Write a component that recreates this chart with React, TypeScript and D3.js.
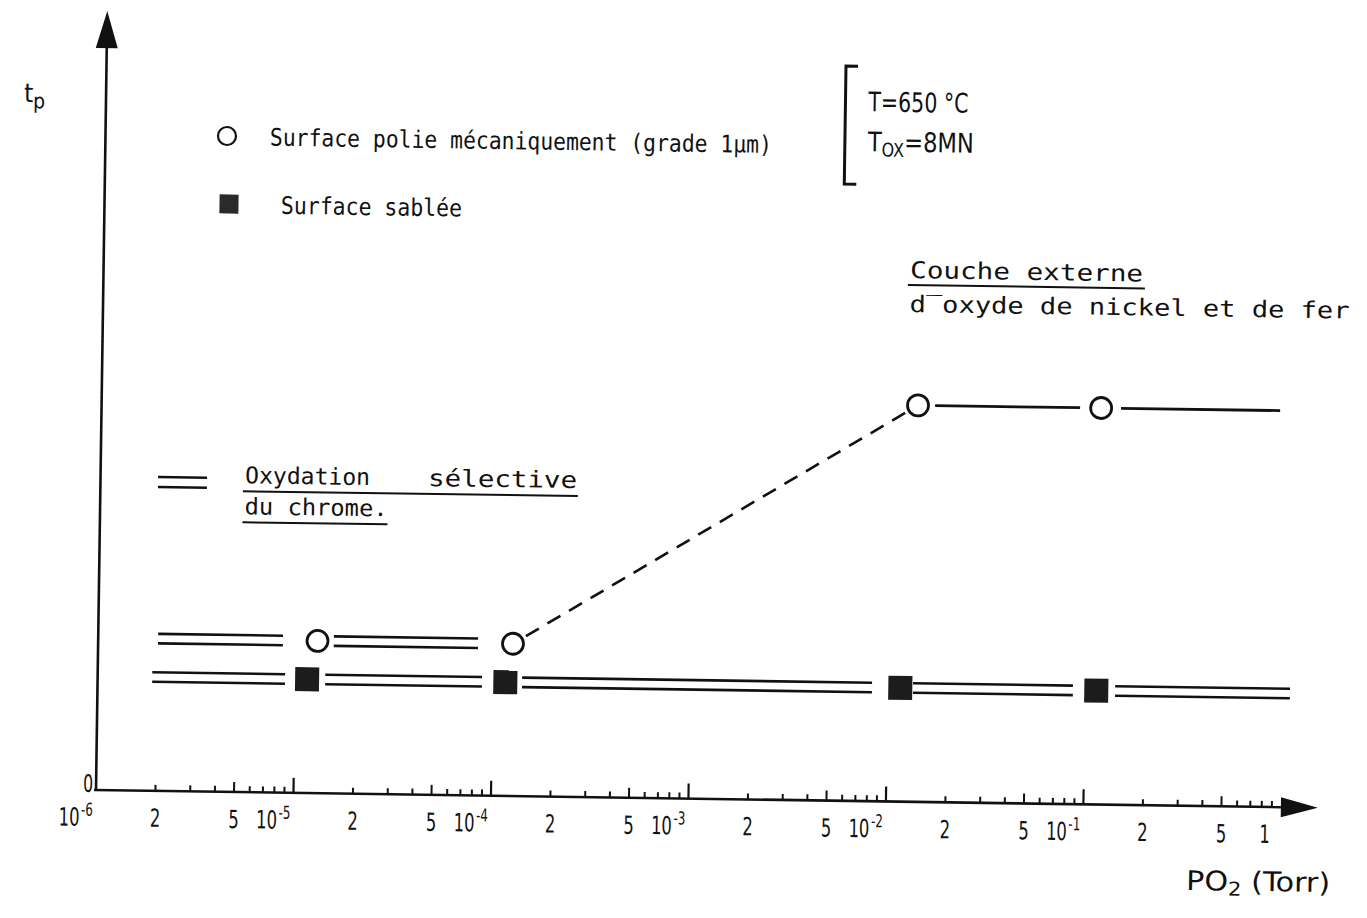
import React from "react";
import * as d3 from "d3";

// Decades of the O2 partial pressure axis (Torr)
const decades = [1e-6, 1e-5, 1e-4, 1e-3, 1e-2, 1e-1];
const decadeExponents = ["-6", "-5", "-4", "-3", "-2", "-1"];
const minorMultipliers = [2, 3, 4, 5, 6, 7, 8, 9];
const labeledMultipliers = ["2", "5"];
const lastLabel = "1";

// Measured points: mechanically polished surface (open circles)
const polishedPressure = [1.29e-5, 1.26e-4, 1.36e-2, 1.15e-1];
const polishedTp = [3.84, 3.84, 10, 10];

// Measured points: sand-blasted surface (filled squares)
const sandblastedPressure = [1.15e-5, 1.16e-4, 1.16e-2, 1.14e-1];
const sandblastedTp = [2.87, 2.87, 2.87, 2.87];

// Pressure ranges with selective chromium oxidation (double line)
const polishedChromeBands = [
  [2.01e-6, 8.62e-6],
  [1.56e-5, 8.38e-5],
];
const sandblastedChromeBands = [
  [1.89e-6, 8.89e-6],
  [1.42e-5, 8.84e-5],
  [1.41e-4, 8.34e-3],
  [1.345e-2, 8.68e-2],
  [1.42e-1, 1.09],
];

// Pressure ranges with an outer nickel / iron oxide layer (single line)
const polishedOuterLayer = [
  [1.66e-2, 9.0e-2],
  [1.45e-1, 0.927],
];

const INK = "#111";
const TILT = 0.83;
const NARROW = 0.73;
const SANS = "'DejaVu Sans Condensed', 'Liberation Sans Narrow', 'DejaVu Sans', sans-serif";
const MONO = "'DejaVu Sans Mono', 'Liberation Mono', monospace";

export default function App() {
  const W = 1367;
  const H = 918;
  const x = d3.scaleLog().domain([1e-6, 1]).range([0, 1185]);
  const y = d3.scaleLinear().domain([0, 10]).range([0, -396.5]);

  const yAxisTop = 779;
  const yArrowBase = 742;
  const xArrowTip = 1222;

  const minorTicks: { p: number; len: number }[] = [];
  decades.forEach((d) => {
    minorMultipliers.forEach((m) => {
      minorTicks.push({ p: d * m, len: m === 5 ? 10 : 6 });
    });
  });

  const pPol = polishedPressure.map((p, i) => [x(p), y(polishedTp[i])]);
  const pSand = sandblastedPressure.map((p, i) => [x(p), y(sandblastedTp[i])]);

  // dashed transition between the 2nd and 3rd polished points, trimmed at the circles
  const [ax, ay] = pPol[1];
  const [bx, by] = pPol[2];
  const len = Math.hypot(bx - ax, by - ay);
  const ux = (bx - ax) / len;
  const uy = (by - ay) / len;
  const trim = 15;

  const gap = 4.75;
  const doubleLine = (bands: number[][], t: number, key: string) =>
    bands.map((b, i) => (
      <g key={`${key}${i}`}>
        <line x1={x(b[0])} x2={x(b[1])} y1={y(t) - gap} y2={y(t) - gap} stroke={INK} strokeWidth={2.6} />
        <line x1={x(b[0])} x2={x(b[1])} y1={y(t) + gap} y2={y(t) + gap} stroke={INK} strokeWidth={2.6} />
      </g>
    ));

  const rot = (px: number, py: number) => `rotate(${TILT}, ${px}, ${py})`;
  const narrowAt = (px: number, py: number) => `translate(${px},${py}) scale(${NARROW},1)`;

  return (
    <svg
      width={W}
      height={H}
      style={{ position: "absolute", left: 0, top: 0, background: "#fff" }}
    >
      <rect width={W} height={H} fill="#fff" />

      <g transform={`translate(96,790) rotate(${TILT})`}>
        {/* axes */}
        <line x1={-2} x2={x(1)} y1={0} y2={0} stroke={INK} strokeWidth={2.6} />
        <line x1={0} x2={0} y1={0} y2={-yArrowBase} stroke={INK} strokeWidth={2.6} />
        <path d={`M${-11},${-yArrowBase} L0,${-yAxisTop} L11,${-yArrowBase} Z`} fill={INK} />
        <path d={`M${x(1)},-10 L${xArrowTip},0 L${x(1)},10 Z`} fill={INK} />

        {/* ticks */}
        {minorTicks.map((t, i) =>
          x(t.p) < x(1) - 2 ? (
            <line key={`mt${i}`} x1={x(t.p)} x2={x(t.p)} y1={0} y2={-t.len} stroke={INK} strokeWidth={2} />
          ) : null
        )}
        {decades.slice(1).map((d, i) => (
          <line key={`dt${i}`} x1={x(d)} x2={x(d)} y1={0} y2={-15} stroke={INK} strokeWidth={2.2} />
        ))}

        {/* tick labels */}
        <g fontFamily={SANS} fill={INK}>
          <text transform={narrowAt(-8, 2)} fontSize={24} textAnchor="middle">0</text>
          {decades.map((d, i) => (
            <g key={`dl${i}`}>
              <text transform={narrowAt(x(d) - 37, 36)} fontSize={25}>
                10<tspan fontSize={18} dy={-10} dx={2}>{decadeExponents[i]}</tspan>
              </text>
              {labeledMultipliers.map((m) => (
                <text key={m} transform={narrowAt(x(d * +m), 36)} fontSize={25} textAnchor="middle">{m}</text>
              ))}
            </g>
          ))}
          <text transform={narrowAt(x(1) - 16, 36)} fontSize={25} textAnchor="middle">{lastLabel}</text>
        </g>

        {/* selective chromium oxidation */}
        {doubleLine(polishedChromeBands, polishedTp[0], "pc")}
        {doubleLine(sandblastedChromeBands, sandblastedTp[0], "sc")}

        {/* outer Ni/Fe oxide layer */}
        {polishedOuterLayer.map((b, i) => (
          <line key={`ol${i}`} x1={x(b[0])} x2={x(b[1])} y1={y(10)} y2={y(10)} stroke={INK} strokeWidth={2.8} />
        ))}

        <line
          x1={ax + ux * trim}
          y1={ay + uy * trim}
          x2={bx - ux * trim}
          y2={by - uy * trim}
          stroke={INK}
          strokeWidth={2.6}
          strokeDasharray="15 10"
        />

        {pPol.map(([cx, cy], i) => (
          <circle key={`pc${i}`} cx={cx} cy={cy} r={10.5} fill="#fff" stroke={INK} strokeWidth={2.8} />
        ))}
        {pSand.map(([cx, cy], i) => (
          <rect key={`sq${i}`} x={cx - 12} y={cy - 12} width={24} height={24} fill="#1c1c1c" />
        ))}
      </g>

      {/* axis titles */}
      <g transform={rot(24, 102)} fill={INK} fontFamily={SANS}>
        <text x={24} y={102} fontSize={26}>
          t<tspan fontSize={21} dy={6}>p</tspan>
        </text>
      </g>
      <g transform={rot(1186, 890)} fill={INK} fontFamily={SANS}>
        <text x={1186} y={890} fontSize={27} textLength={144} lengthAdjust="spacingAndGlyphs">
          PO<tspan fontSize={19} dy={5}>2</tspan>
          <tspan dy={-5}> (Torr)</tspan>
        </text>
      </g>

      {/* legend */}
      <g transform={rot(227, 136)}>
        <circle cx={227} cy={136} r={9} fill="#fff" stroke={INK} strokeWidth={2.2} />
        <text x={270} y={145} fontFamily={MONO} fontSize={24} textLength={502} lengthAdjust="spacingAndGlyphs" fill={INK}>
          Surface polie mécaniquement (grade 1µm)
        </text>
      </g>
      <g transform={rot(229, 204)}>
        <rect x={219.5} y={194.5} width={19} height={19} fill="#2a2a2a" />
        <text x={281} y={213} fontFamily={MONO} fontSize={24} textLength={181} lengthAdjust="spacingAndGlyphs" fill={INK}>
          Surface sablée
        </text>
      </g>

      {/* experimental conditions */}
      <g transform={rot(846, 66)} fill={INK} fontFamily={SANS}>
        <path d="M858,66 H846 V184 H858" fill="none" stroke={INK} strokeWidth={3} />
        <text x={869} y={111} fontSize={27} textLength={100} lengthAdjust="spacingAndGlyphs">T=650 °C</text>
        <text x={869} y={151} fontSize={27} textLength={106} lengthAdjust="spacingAndGlyphs">
          T<tspan fontSize={19} dy={5}>OX</tspan>
          <tspan dy={-5}>=8MN</tspan>
        </text>
      </g>

      {/* outer layer annotation */}
      <g transform={rot(910, 277)} fill={INK} fontFamily={MONO}>
        <text x={910} y={278} fontSize={23} textLength={233} lengthAdjust="spacingAndGlyphs">Couche externe</text>
        <line x1={908} x2={1145} y1={285} y2={285} stroke={INK} strokeWidth={2} />
        <text x={910} y={312} fontSize={23} textLength={440} lengthAdjust="spacingAndGlyphs">d‾oxyde de nickel et de fer</text>
      </g>

      {/* selective oxidation annotation */}
      <g transform={rot(158, 482)} fill={INK} fontFamily={MONO}>
        <line x1={158} x2={207} y1={477} y2={477} stroke={INK} strokeWidth={2.4} />
        <line x1={158} x2={207} y1={487} y2={487} stroke={INK} strokeWidth={2.4} />
        <text x={245} y={482} fontSize={23} textLength={125} lengthAdjust="spacingAndGlyphs">Oxydation</text>
        <text x={428} y={482} fontSize={23} textLength={149} lengthAdjust="spacingAndGlyphs">sélective</text>
        <line x1={243} x2={578} y1={490} y2={490} stroke={INK} strokeWidth={2} />
        <text x={245} y={513} fontSize={23} textLength={143} lengthAdjust="spacingAndGlyphs">du chrome.</text>
        <line x1={243} x2={388} y1={521} y2={521} stroke={INK} strokeWidth={2} />
      </g>
    </svg>
  );
}
